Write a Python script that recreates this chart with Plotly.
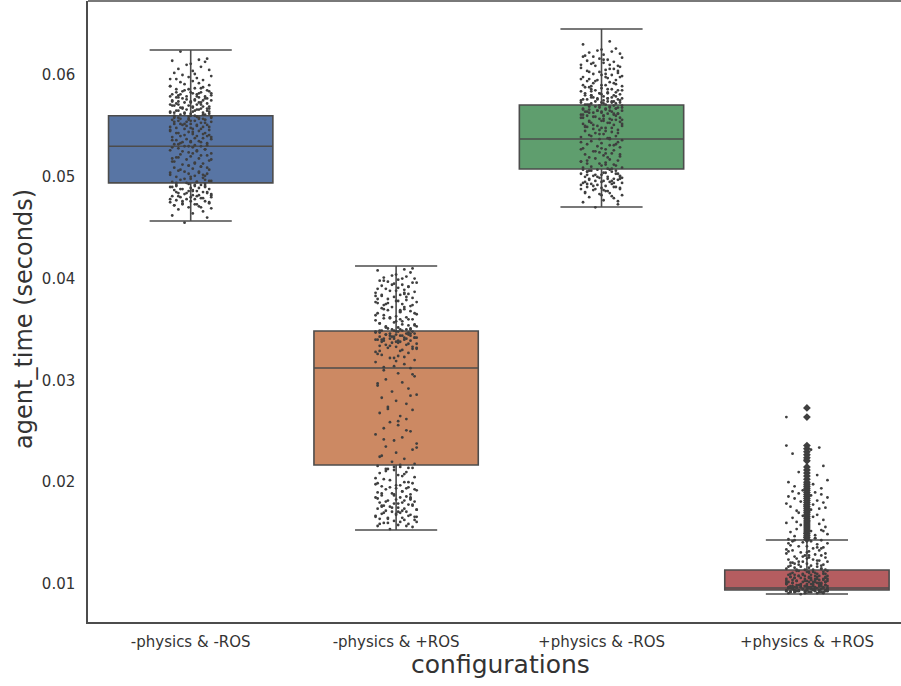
import plotly.graph_objects as go

categories = ["-physics & -ROS", "-physics & +ROS", "+physics & -ROS", "+physics & +ROS"]
box_low = [0.04566, 0.0153, 0.04703, 0.00902]
box_q1 = [0.0494, 0.02169, 0.05077, 0.00941]
box_median = [0.0530, 0.03122, 0.05371, 0.00961]
box_q3 = [0.0560, 0.03485, 0.05705, 0.01138]
box_high = [0.06246, 0.04124, 0.06452, 0.01432]
fill_colors = ["#5875A4", "#CC8963", "#5F9E6E", "#B55D60"]
tick_values = [0.01, 0.02, 0.03, 0.04, 0.05, 0.06]
tick_labels = ["0.01", "0.02", "0.03", "0.04", "0.05", "0.06"]

# jitter of the strip points, in hundredths of a category
jitter = [
 -3, 8, -9, 1, 6, -6, 10, -1, 4, -8, 3, -4, 9, -10, 0, 7, -7, 2, -2, 5,
 -5, 10, -9, 4, 1, -3, 8, -6, 6, -1, 3, -8, 9, -4, 0, 7, -10, 2, 5, -7,
 7, -2, -9, 3, 10, -5, 0, 6, -7, 2, -10, 8, 4, -3, -6, 9, 1, -8, 5, -1,
 -4, 6, 2, -9, 9, -2, 4, -7, 0, 8, -5, 10, -1, 3, -10, 7, -6, 1, -3, 5,
 2, -8, 8, -4, 5, 0, -7, 10, -2, 6, -9, 3, -5, 9, 1, -6, 7, -1, 4, -10,
 9, -3, 1, -7, 6, -10, 3, 8, -4, 0, -8, 5, 10, -2, 2, -6, 7, -9, 4, -1,
 -6, 4, 10, -1, -8, 2, 7, -5, 0, 9, -3, 6, -10, 1, 8, -7, 3, -2, 5, -4,
 1, -5, 6, 9, -8, -1, 3, -10, 8, -3, 5, 0, -6, 10, -9, 2, 7, -4, 4, -7,
 -2, 7, -6, 3, -9, 10, 0, 5, -4, 8, -1, -7, 2, 6, -10, 9, -3, 4, -5, 1,
 6, -7, 3, -1, 10, -4, -8, 1, 9, -6, 5, -2, 0, 7, -9, 4, 8, -5, 2, -10,
]
jitter_b = [
 5, -8, 2, 9, -4, -10, 6, 0, -6, 3, 10, -2, -7, 8, 1, -5, 4, -9, 7, -1,
 -7, 3, 9, -3, 0, 6, -10, 4, -5, 8, -1, 2, -8, 10, -6, 5, 1, -4, 7, -9,
 8, -6, 0, 4, -9, 2, 10, -3, 6, -7, 1, -10, 5, 9, -2, 3, -5, 7, -8, 0,
 -1, 7, -5, 10, 3, -8, 0, 6, -3, -10, 9, 2, -6, 4, 8, -4, 1, -9, 5, -7,
 4, 0, -9, 6, -2, 8, -6, 3, 10, -5, 1, -7, 9, -3, 5, -10, 2, 7, -1, -8,
 -4, 10, 1, -7, 7, -1, 5, -9, 3, -5, 8, 0, -3, 6, -8, 9, -6, 2, -10, 4,
 2, -9, 6, -5, 9, 0, -2, 8, -7, 4, -10, 5, 3, -4, 10, -6, 1, 7, -3, -8,
 -10, 3, 7, -1, -6, 5, 9, -8, 1, -4, 6, 10, -2, -7, 4, 0, 8, -9, 2, -5,
]

blue_ms = [
 45.5, 46.0, 46.2, 46.4, 46.6, 46.8, 46.9, 47.0, 47.1, 47.2, 47.3, 47.3, 47.4, 47.5, 47.6, 47.6, 47.7, 47.8, 47.8, 47.9,
 48.0, 48.0, 48.1, 48.2, 48.2, 48.3, 48.4, 48.4, 48.5, 48.6, 48.6, 48.7, 48.8, 48.8, 48.9, 49.0, 49.0, 49.1, 49.2, 49.2,
 49.3, 49.4, 49.5, 49.5, 49.6, 49.7, 49.8, 49.9, 50.0, 50.1, 50.2, 50.3, 50.4, 50.5, 50.6, 50.7, 50.8, 50.9, 51.0, 51.1,
 51.2, 51.3, 51.4, 51.5, 51.6, 51.7, 51.8, 51.9, 52.0, 52.1, 52.2, 52.3, 52.4, 52.5, 52.6, 52.7, 52.8, 52.9, 53.0, 53.0,
 53.1, 53.2, 53.3, 53.4, 53.4, 53.5, 53.6, 53.7, 53.7, 53.8, 53.9, 54.0, 54.0, 54.1, 54.2, 54.3, 54.3, 54.4, 54.5, 54.5,
 54.6, 54.7, 54.7, 54.8, 54.9, 54.9, 55.0, 55.1, 55.1, 55.2, 55.2, 55.3, 55.4, 55.4, 55.5, 55.5, 55.6, 55.6, 55.7, 55.7,
 55.8, 55.8, 55.9, 55.9, 56.0, 56.0, 56.1, 56.1, 56.2, 56.2, 56.3, 56.3, 56.4, 56.4, 56.5, 56.5, 56.6, 56.6, 56.7, 56.7,
 56.8, 56.8, 56.9, 56.9, 57.0, 57.0, 57.1, 57.1, 57.2, 57.3, 57.3, 57.4, 57.4, 57.5, 57.5, 57.6, 57.7, 57.7, 57.8, 57.8,
 57.9, 57.9, 58.0, 58.1, 58.1, 58.2, 58.3, 58.3, 58.4, 58.5, 58.6, 58.6, 58.7, 58.8, 58.9, 59.0, 59.1, 59.2, 59.3, 59.4,
 59.5, 59.6, 59.7, 59.8, 59.9, 60.0, 60.2, 60.4, 60.5, 60.6, 60.8, 61.0, 61.1, 61.3, 61.4, 61.5, 61.6, 62.3, 60.1, 59.6,
]
blue_extra_ms = [
 47.0, 47.2, 47.3, 47.5, 47.6, 47.8, 47.9, 48.0, 48.1, 48.1, 48.3, 48.4, 48.5, 48.5, 48.7, 48.8, 48.9, 49.0, 49.1, 49.3,
 49.4, 49.5, 49.6, 49.8, 50.0, 50.2, 50.4, 50.5, 50.7, 50.9, 51.1, 51.3, 51.5, 51.7, 51.9, 52.1, 52.3, 52.5, 52.7, 52.9,
 53.1, 53.2, 53.4, 53.5, 53.6, 53.8, 53.9, 54.1, 54.2, 54.3, 54.4, 54.6, 54.7, 54.9, 55.0, 55.1, 55.2, 55.3, 55.4, 55.5,
 55.6, 55.6, 55.7, 55.8, 55.9, 55.9, 56.0, 56.1, 56.2, 56.3, 56.4, 56.5, 56.5, 56.6, 56.7, 56.8, 56.9, 57.0, 57.1, 57.2,
 57.3, 57.3, 57.4, 57.5, 57.6, 57.7, 57.8, 57.9, 58.0, 58.1, 58.2, 58.3, 58.4, 58.5, 58.7, 58.9, 49.2, 50.1, 53.0, 55.8,
 47.4, 48.2, 48.6, 49.1, 49.7, 50.3, 51.0, 51.8, 52.6, 53.3, 54.0, 54.8, 55.2, 55.7, 56.3, 56.7, 57.1, 57.5, 57.9, 58.2,
]

orange_ms = [
 15.4, 15.6, 15.7, 15.8, 15.9, 16.0, 16.1, 16.2, 16.3, 16.4, 16.5, 16.5, 16.6, 16.7, 16.8, 16.8, 16.9, 17.0, 17.1, 17.1,
 17.2, 17.3, 17.4, 17.4, 17.5, 17.6, 17.7, 17.7, 17.8, 17.9, 18.0, 18.0, 18.1, 18.2, 18.3, 18.4, 18.5, 18.5, 18.6, 18.7,
 18.8, 18.9, 19.0, 19.1, 19.2, 19.3, 19.4, 19.5, 19.6, 19.7, 19.8, 19.9, 20.0, 20.2, 20.3, 20.5, 20.7, 20.9, 21.0, 21.2,
 21.3, 21.4, 21.5, 21.6, 21.8, 22.0, 22.3, 22.6, 22.9, 23.2, 23.5, 23.8, 24.1, 24.4, 24.7, 25.0, 25.3, 25.6, 25.9, 26.2,
 26.5, 26.8, 27.1, 27.4, 27.7, 28.0, 28.3, 28.6, 28.9, 29.2, 29.5, 29.8, 30.1, 30.4, 30.7, 31.0, 31.2, 31.4, 31.6, 31.8,
 32.0, 32.2, 32.4, 32.5, 32.7, 32.8, 33.0, 33.1, 33.2, 33.3, 33.4, 33.5, 33.6, 33.7, 33.8, 33.9, 33.9, 34.0, 34.0, 34.1,
 34.1, 34.2, 34.2, 34.3, 34.3, 34.4, 34.4, 34.5, 34.5, 34.6, 34.6, 34.7, 34.7, 34.8, 34.8, 34.9, 34.9, 35.0, 35.0, 35.1,
 35.2, 35.3, 35.4, 35.5, 35.6, 35.7, 35.8, 35.9, 36.0, 36.1, 36.2, 36.3, 36.4, 36.5, 36.6, 36.7, 36.8, 36.9, 37.0, 37.1,
 37.2, 37.3, 37.4, 37.5, 37.6, 37.7, 37.8, 37.9, 38.0, 38.1, 38.2, 38.3, 38.4, 38.5, 38.6, 38.7, 38.8, 38.9, 39.0, 39.1,
 39.2, 39.3, 39.4, 39.5, 39.6, 39.7, 39.8, 39.9, 40.0, 40.1, 40.2, 40.3, 40.4, 40.6, 40.8, 40.9, 41.0, 37.5, 36.0, 38.3,
]
orange_extra_ms = [
 15.7, 15.9, 16.1, 16.3, 16.4, 16.6, 16.7, 16.9, 17.0, 17.2, 17.3, 17.5, 17.6, 17.8, 17.9, 18.1, 18.2, 18.4, 18.5, 18.7,
 18.9, 19.1, 19.3, 19.5, 19.7, 20.0, 20.4, 20.8, 21.1, 21.4, 21.5, 21.7, 22.5, 23.4, 24.2, 25.1, 26.0, 27.2, 28.5, 29.7,
 30.6, 31.3, 31.9, 32.3, 32.6, 32.9, 33.2, 33.4, 33.6, 33.8, 33.9, 34.0, 34.1, 34.2, 34.3, 34.4, 34.5, 34.6, 34.7, 34.8,
 34.9, 35.0, 35.2, 35.3, 35.5, 35.6, 35.8, 36.0, 36.2, 36.4, 36.6, 36.8, 37.0, 37.2, 37.4, 37.6, 37.8, 38.0, 38.2, 38.4,
 38.6, 38.8, 39.0, 39.2, 39.4, 39.6, 39.8, 40.0, 33.1, 33.5, 33.7, 34.0, 34.2, 34.4, 34.6, 34.8, 35.0, 35.1, 32.2, 32.9,
 16.0, 16.6, 17.1, 17.7, 18.3, 18.8, 19.4, 19.9, 20.6, 21.3, 33.3, 33.8, 34.1, 34.5, 34.9, 35.4, 36.1, 36.9, 37.7, 38.5,
]

green_ms = [
 47.0, 47.3, 47.5, 47.7, 47.9, 48.0, 48.2, 48.3, 48.4, 48.5, 48.6, 48.7, 48.8, 48.8, 48.9, 49.0, 49.0, 49.1, 49.2, 49.3,
 49.3, 49.4, 49.4, 49.5, 49.6, 49.6, 49.7, 49.8, 49.8, 49.9, 50.0, 50.0, 50.1, 50.1, 50.2, 50.3, 50.3, 50.4, 50.5, 50.5,
 50.6, 50.7, 50.7, 50.8, 50.9, 51.0, 51.1, 51.2, 51.3, 51.4, 51.5, 51.6, 51.7, 51.8, 51.9, 52.0, 52.1, 52.2, 52.3, 52.4,
 52.5, 52.6, 52.7, 52.8, 52.9, 53.0, 53.1, 53.2, 53.3, 53.4, 53.5, 53.6, 53.7, 53.8, 53.9, 54.0, 54.1, 54.2, 54.3, 54.4,
 54.5, 54.5, 54.6, 54.7, 54.8, 54.8, 54.9, 55.0, 55.0, 55.1, 55.2, 55.3, 55.3, 55.4, 55.5, 55.5, 55.6, 55.7, 55.7, 55.8,
 55.8, 55.9, 56.0, 56.0, 56.1, 56.1, 56.2, 56.2, 56.3, 56.3, 56.4, 56.4, 56.5, 56.5, 56.6, 56.6, 56.7, 56.7, 56.8, 56.8,
 56.9, 56.9, 57.0, 57.0, 57.1, 57.1, 57.2, 57.2, 57.3, 57.3, 57.4, 57.4, 57.5, 57.5, 57.6, 57.6, 57.7, 57.7, 57.8, 57.8,
 57.9, 58.0, 58.0, 58.1, 58.2, 58.2, 58.3, 58.4, 58.5, 58.5, 58.6, 58.7, 58.8, 58.9, 59.0, 59.0, 59.1, 59.2, 59.3, 59.4,
 59.5, 59.5, 59.6, 59.7, 59.8, 59.9, 60.0, 60.0, 60.1, 60.2, 60.3, 60.4, 60.5, 60.6, 60.7, 60.8, 60.9, 61.0, 61.1, 61.2,
 61.3, 61.4, 61.5, 61.6, 61.7, 61.8, 61.9, 62.0, 62.1, 62.2, 62.3, 62.4, 62.5, 62.6, 63.0, 63.3, 60.4, 58.6, 59.8, 61.0,
]
green_extra_ms = [
 48.1, 48.4, 48.6, 48.9, 49.1, 49.2, 49.4, 49.5, 49.7, 49.8, 49.9, 50.0, 50.2, 50.3, 50.4, 50.6, 50.7, 50.9, 51.1, 51.3,
 51.6, 51.9, 52.2, 52.5, 52.8, 53.1, 53.4, 53.7, 54.0, 54.3, 54.6, 54.8, 55.0, 55.2, 55.4, 55.6, 55.7, 55.9, 56.0, 56.1,
 56.2, 56.3, 56.4, 56.5, 56.6, 56.7, 56.8, 56.9, 57.0, 57.1, 57.2, 57.3, 57.4, 57.5, 57.6, 57.7, 57.8, 57.9, 58.0, 58.1,
 58.2, 58.3, 58.4, 58.5, 58.6, 58.8, 59.0, 59.2, 59.4, 59.6, 59.8, 60.1, 60.3, 60.6, 60.9, 61.2, 61.5, 61.8, 49.6, 50.5,
 55.3, 55.5, 55.8, 56.2, 56.5, 56.8, 57.1, 57.4, 57.7, 58.0, 48.7, 49.3, 49.8, 50.2, 50.8, 51.5, 52.3, 53.2, 54.2, 54.9,
 55.1, 55.6, 56.0, 56.4, 56.7, 57.0, 57.3, 57.6, 58.2, 58.9, 47.6, 48.2, 48.8, 49.0, 49.5, 50.0, 50.6, 51.2, 52.7, 53.8,
]

red_ms = [
 9.0, 9.1, 9.1, 9.2, 9.2, 9.2, 9.3, 9.3, 9.3, 9.3, 9.4, 9.4, 9.4, 9.4, 9.5, 9.5, 9.5, 9.5, 9.5, 9.6,
 9.6, 9.6, 9.6, 9.6, 9.7, 9.7, 9.7, 9.7, 9.8, 9.8, 9.8, 9.8, 9.9, 9.9, 9.9, 10.0, 10.0, 10.0, 10.1, 10.1,
 10.1, 10.2, 10.2, 10.2, 10.3, 10.3, 10.3, 10.4, 10.4, 10.4, 10.5, 10.5, 10.5, 10.6, 10.6, 10.6, 10.7, 10.7, 10.7, 10.8,
 10.8, 10.8, 10.9, 10.9, 11.0, 11.0, 11.1, 11.1, 11.2, 11.2, 11.3, 11.3, 11.4, 11.4, 11.5, 11.5, 11.6, 11.6, 11.7, 11.7,
 11.8, 11.8, 11.9, 11.9, 12.0, 12.0, 12.1, 12.2, 12.2, 12.3, 12.4, 12.4, 12.5, 12.6, 12.6, 12.7, 12.8, 12.8, 12.9, 13.0,
 13.0, 13.1, 13.2, 13.3, 13.3, 13.4, 13.5, 13.6, 13.7, 13.7, 13.8, 13.9, 14.0, 14.1, 14.2, 14.3, 14.3, 14.4, 14.5, 14.6,
 14.7, 14.8, 14.9, 15.0, 15.1, 15.2, 15.3, 15.4, 15.5, 15.6, 15.8, 15.9, 16.0, 16.2, 16.3, 16.5, 16.6, 16.7, 16.8, 17.0,
 17.1, 17.2, 17.4, 17.5, 17.6, 17.7, 17.8, 17.9, 18.0, 18.1, 18.2, 18.3, 18.4, 18.5, 18.6, 18.7, 18.8, 18.9, 19.0, 19.1,
 19.2, 19.4, 19.6, 19.8, 20.0, 20.2, 20.4, 20.7, 21.0, 21.6, 22.2, 22.8, 23.2, 23.4, 23.6, 10.2, 9.7, 10.4, 9.9, 10.6,
 9.4, 9.6, 10.0, 10.3, 10.5, 10.8, 11.0, 11.2, 11.4, 12.0, 12.3, 12.7, 13.1, 13.5, 14.0, 14.5, 15.2, 16.1, 17.3, 26.4,
]
red_extra_ms = [
 9.1, 9.2, 9.2, 9.3, 9.3, 9.3, 9.4, 9.4, 9.4, 9.5, 9.5, 9.5, 9.6, 9.6, 9.6, 9.7, 9.7, 9.7, 9.8, 9.8,
 9.8, 9.9, 9.9, 10.0, 10.0, 10.1, 10.1, 10.2, 10.3, 10.4, 10.5, 10.6, 10.7, 10.8, 10.9, 11.0, 11.1, 11.3, 11.5, 11.7,
 9.2, 9.3, 9.4, 9.5, 9.6, 9.7, 9.8, 9.9, 10.0, 10.1, 10.2, 10.3, 10.5, 10.7, 10.9, 11.2, 11.4, 11.8, 12.1, 12.5,
 9.1, 9.2, 9.3, 9.4, 9.5, 9.6, 9.7, 9.8, 9.9, 10.0, 10.2, 10.4, 10.6, 10.8, 11.0, 12.2, 12.8, 13.2, 13.6, 14.2,
]

red_flier_ms = [
 14.4, 14.6, 14.8, 15.0, 15.2, 15.4, 15.6, 15.8, 16.0, 16.2, 16.4, 16.6, 16.8, 17.0, 17.2, 17.4, 17.6, 17.8, 18.0, 18.2,
 18.4, 18.6, 18.8, 19.0, 19.2, 19.4, 19.6, 19.8, 20.0, 20.3, 20.6, 20.9, 21.2, 21.5, 22.1, 22.4, 22.7, 23.0, 23.3, 23.6,
 26.4, 27.3,
]

strips = [blue_ms, orange_ms, green_ms, red_ms]
strips_extra = [blue_extra_ms, orange_extra_ms, green_extra_ms, red_extra_ms]
LINE = "#4c4c4c"
DOT = "#3f3f3f"

fig = go.Figure()
for i, name in enumerate(categories):
    fig.add_trace(go.Box(
        x=[i], q1=[box_q1[i]], median=[box_median[i]], q3=[box_q3[i]],
        lowerfence=[box_low[i]], upperfence=[box_high[i]],
        width=0.8, whiskerwidth=0.5, fillcolor=fill_colors[i],
        line=dict(color=LINE, width=1.6), boxpoints=False, name=name,
    ))
for group, jit in ((strips, jitter), (strips_extra, jitter_b)):
    for i, vals in enumerate(group):
        fig.add_trace(go.Scatter(
            x=[i + j / 100 for j, _ in zip(jit, vals)],
            y=[v / 1000 for v in vals],
            mode="markers", marker=dict(color=DOT, size=2.8, line=dict(width=0)),
        ))
fig.add_trace(go.Scatter(
    x=[3] * len(red_flier_ms), y=[v / 1000 for v in red_flier_ms], mode="markers",
    marker=dict(color=DOT, symbol="diamond", size=6, line=dict(width=0)),
))

fig.update_layout(
    width=901, height=686, autosize=False, showlegend=False,
    margin=dict(l=88, r=0, t=1, b=64),
    paper_bgcolor="white", plot_bgcolor="white",
    font=dict(family="DejaVu Sans", color="#333333"),
    xaxis=dict(
        range=[-0.5, 3.458], tickvals=[0, 1, 2, 3], ticktext=categories,
        tickfont=dict(size=15), showgrid=False, zeroline=False, ticks="",
        showline=True, linecolor=LINE, linewidth=1.5, ticklabelstandoff=5,
    ),
    yaxis=dict(
        range=[0.00627, 0.06727], tickvals=tick_values, ticktext=tick_labels,
        tickfont=dict(size=15), showgrid=False, zeroline=False, ticks="",
        showline=True, linecolor=LINE, linewidth=1.5, ticklabelstandoff=8,
    ),
    annotations=[
        dict(text="configurations", font=dict(size=25), showarrow=False,
             xref="paper", yref="paper", x=0.5068, y=0, yshift=-42,
             xanchor="center", yanchor="middle"),
        dict(text="agent_time (seconds)", font=dict(size=24), showarrow=False, textangle=-90,
             xref="paper", yref="paper", x=0, xshift=-64, y=0.488,
             xanchor="center", yanchor="middle"),
    ],
    shapes=[dict(type="line", xref="paper", yref="paper", x0=0, x1=1, y0=1, y1=1,
                 line=dict(color=LINE, width=1.5))],
)
fig.write_html("out.html", post_script="document.body.style.margin='0';",
               config={"displayModeBar": False})
